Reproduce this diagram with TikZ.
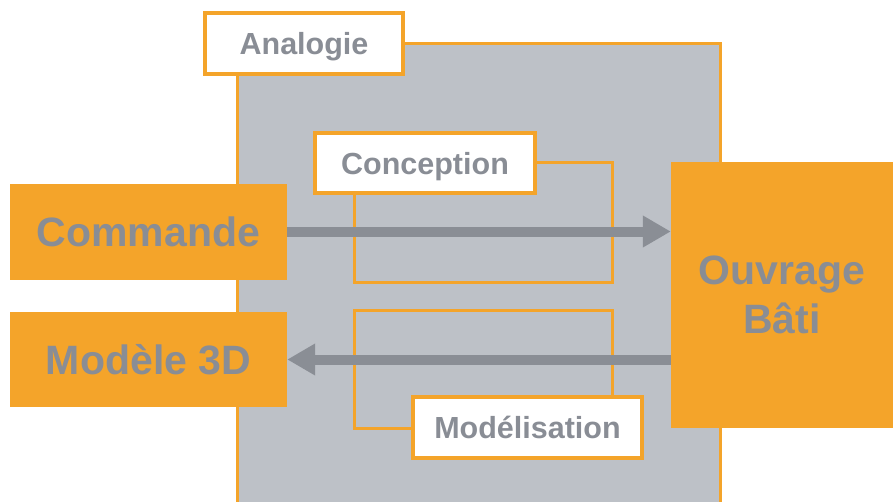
\documentclass[tikz,border=0pt]{standalone}
\usepackage{fontspec}
\setmainfont{Liberation Sans}
\usetikzlibrary{arrows.meta}
\definecolor{orng}{HTML}{F4A42A}
\definecolor{panel}{HTML}{BDC1C7}
\definecolor{txtgray}{HTML}{898D95}
\definecolor{arrgray}{HTML}{8A8E95}
\tikzset{
  bigbox/.style={fill=orng, draw=none, inner sep=0pt, align=center,
    text=txtgray, font=\fontsize{41}{52}\selectfont\bfseries},
  labelbox/.style={fill=white, draw=orng, line width=4pt, inner sep=0pt,
    text depth=0pt, text=txtgray, font=\fontsize{30.5}{36}\selectfont\bfseries},
  frame/.style={draw=orng, line width=3pt},
  flow/.style={draw=arrgray, line width=10pt, -{Triangle[length=28pt,width=30pt]}}
}
\begin{document}
\begin{tikzpicture}[x=1pt,y=-1pt]
\useasboundingbox (0,0) rectangle (893,501);
\clip (0,0) rectangle (893,501);
% panel
\draw[frame, fill=panel] (237,43) rectangle (720,520);
\node[labelbox, minimum width=198pt, minimum height=61pt] (ana) at (304,43.5) {Analogie};
% inner frames
\draw[frame] (354,162) rectangle (612,282);
\draw[frame] (354,310) rectangle (612,428);
\node[labelbox, minimum width=220pt, minimum height=60pt] (con) at (425,163) {Conception};
\node[labelbox, minimum width=229pt, minimum height=61pt] (mdl) at (527.5,427.5) {Modélisation};
% big boxes
\node[bigbox, minimum width=277pt, minimum height=96pt] (cmd) at (148.5,231.5) {Commande};
\node[bigbox, minimum width=277pt, minimum height=95pt] (m3d) at (148.5,359.5) {Modèle 3D};
\node[bigbox, minimum width=222pt, minimum height=266pt] (ouv) at (782,295) {Ouvrage\\[-3pt]Bâti};
% arrows
\draw[flow] (cmd.east) -- (cmd.east -| ouv.west);
\draw[flow] (ouv.west |- m3d.east) -- (m3d.east);
\end{tikzpicture}
\end{document}
